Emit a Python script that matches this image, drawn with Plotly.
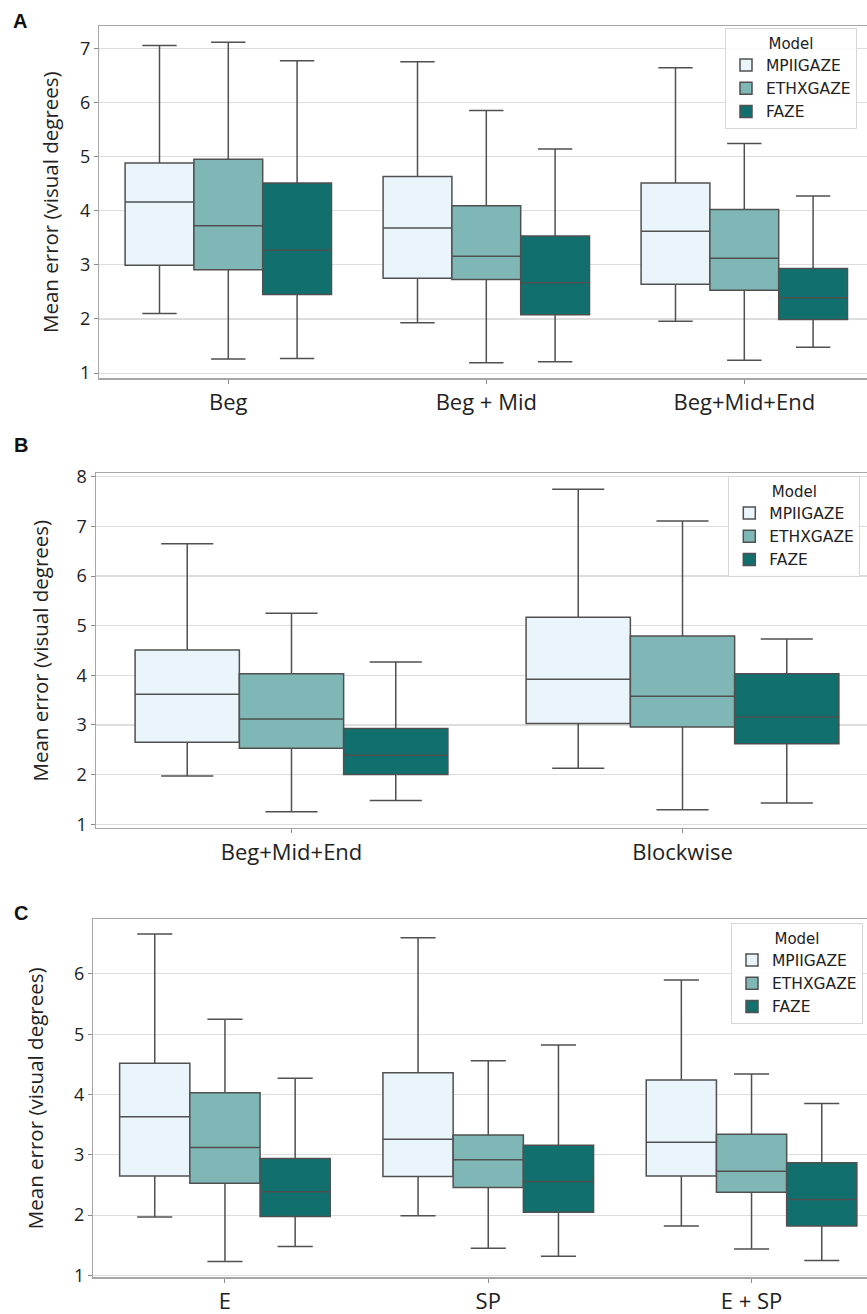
import plotly.graph_objects as go

MODELS = ["MPIIGAZE", "ETHXGAZE", "FAZE"]
FILLS = {"MPIIGAZE": "#eaf5fb", "ETHXGAZE": "#7fb7b6", "FAZE": "#11706d"}

# ---- Panel A ----
A_categories = ["Beg", "Beg + Mid", "Beg+Mid+End"]
A_MPIIGAZE = dict(lowerfence=[2.10, 1.93, 1.96], q1=[2.99, 2.75, 2.64], median=[4.16, 3.68, 3.62],
                  q3=[4.88, 4.63, 4.51], upperfence=[7.05, 6.75, 6.64])
A_ETHXGAZE = dict(lowerfence=[1.26, 1.19, 1.24], q1=[2.91, 2.73, 2.53], median=[3.72, 3.16, 3.12],
                  q3=[4.95, 4.09, 4.02], upperfence=[7.11, 5.85, 5.24])
A_FAZE = dict(lowerfence=[1.27, 1.21, 1.48], q1=[2.45, 2.08, 1.99], median=[3.27, 2.67, 2.39],
              q3=[4.51, 3.53, 2.93], upperfence=[6.77, 5.14, 4.27])

# ---- Panel B ----
B_categories = ["Beg+Mid+End", "Blockwise"]
B_MPIIGAZE = dict(lowerfence=[1.97, 2.13], q1=[2.65, 3.03], median=[3.62, 3.92],
                  q3=[4.51, 5.17], upperfence=[6.65, 7.75])
B_ETHXGAZE = dict(lowerfence=[1.25, 1.29], q1=[2.53, 2.96], median=[3.12, 3.58],
                  q3=[4.03, 4.79], upperfence=[5.25, 7.11])
B_FAZE = dict(lowerfence=[1.48, 1.43], q1=[2.00, 2.62], median=[2.39, 3.16],
              q3=[2.93, 4.03], upperfence=[4.27, 4.73])

# ---- Panel C ----
C_categories = ["E", "SP", "E + SP"]
C_MPIIGAZE = dict(lowerfence=[1.97, 1.99, 1.82], q1=[2.65, 2.64, 2.65], median=[3.63, 3.26, 3.21],
                  q3=[4.52, 4.36, 4.24], upperfence=[6.66, 6.60, 5.90])
C_ETHXGAZE = dict(lowerfence=[1.23, 1.45, 1.44], q1=[2.53, 2.46, 2.38], median=[3.12, 2.92, 2.73],
                  q3=[4.03, 3.33, 3.34], upperfence=[5.25, 4.56, 4.34])
C_FAZE = dict(lowerfence=[1.48, 1.32, 1.25], q1=[1.98, 2.05, 1.82], median=[2.39, 2.56, 2.26],
              q3=[2.94, 3.16, 2.87], upperfence=[4.27, 4.82, 3.85])

panels = [
    ("x", "y", "legend", A_categories, {"MPIIGAZE": A_MPIIGAZE, "ETHXGAZE": A_ETHXGAZE, "FAZE": A_FAZE}),
    ("x2", "y2", "legend2", B_categories, {"MPIIGAZE": B_MPIIGAZE, "ETHXGAZE": B_ETHXGAZE, "FAZE": B_FAZE}),
    ("x3", "y3", "legend3", C_categories, {"MPIIGAZE": C_MPIIGAZE, "ETHXGAZE": C_ETHXGAZE, "FAZE": C_FAZE}),
]

W, H = 867, 1314
LINE = "#505050"
FONT = "Open Sans"

fig = go.Figure()
for xa, ya, lg, cats, data in panels:
    for m in MODELS:
        d = data[m]
        fig.add_trace(go.Box(
            x=cats, q1=d["q1"], median=d["median"], q3=d["q3"],
            lowerfence=d["lowerfence"], upperfence=d["upperfence"],
            name=m, fillcolor=FILLS[m], line=dict(color=LINE, width=1.5),
            whiskerwidth=0.5, boxpoints=False, xaxis=xa, yaxis=ya,
            legend=lg, showlegend=True, offsetgroup=m, hoverinfo="skip",
        ))


def px_x(v):
    return v / W


def px_y(v):
    return 1 - v / H


axis_common = dict(
    showline=True, linecolor="#a6a6a6", linewidth=1.5,
    ticks="outside", ticklen=4, tickcolor="#8a8a8a", tickwidth=1,
    automargin=False,
)

# pixel geometry per panel: left, full right edge (beyond the cut), top, bottom, yrange, ncat
geo = [
    (99.3, 873.3, 26, 378, [0.91, 7.41], 3),
    (96.0, 878.0, 473.3, 827.7, [0.93, 8.07], 2),
    (93.3, 883.2, 919, 1277.3, [0.97, 6.91], 3),
]

layout = dict(
    width=W, height=H, margin=dict(l=0, r=0, t=0, b=0),
    paper_bgcolor="white", plot_bgcolor="white",
    boxmode="group", boxgap=0.2, boxgroupgap=0,
    font=dict(family=FONT, color="#222222"),
)

for i, (left, right, top, bottom, yr, n) in enumerate(geo):
    s = "" if i == 0 else str(i + 1)
    # the figure is cut at the page edge: visible part of the category range
    x_end = -0.5 + n * (W - left) / (right - left)
    layout["xaxis" + s] = dict(
        domain=[px_x(left), 1.0], anchor="y" + s, range=[-0.5, x_end], type="category",
        mirror=True, showgrid=False,
        tickfont=dict(family=FONT, size=22, color="#222222"),
        **axis_common,
    )
    layout["yaxis" + s] = dict(
        domain=[px_y(bottom), px_y(top)], anchor="x" + s, range=yr,
        tick0=0, dtick=1, showgrid=True, gridcolor="#dddddd", gridwidth=1.2,
        zeroline=False, mirror=False,
        tickfont=dict(family=FONT, size=18, color="#222222"),
        **axis_common,
    )

legend_pos = [(725, 28), (728.3, 476), (731, 923)]
for i, (lx, ly) in enumerate(legend_pos):
    key = "legend" if i == 0 else "legend" + str(i + 1)
    layout[key] = dict(
        x=px_x(lx), xanchor="left", y=px_y(ly), yanchor="top",
        title=dict(text="Model", side="top center", font=dict(family="DejaVu Sans", size=15, color="#222")),
        font=dict(family="DejaVu Sans", size=15.5, color="#222"),
        bgcolor="rgba(255,255,255,0.85)", bordercolor="#d6d6d6", borderwidth=1,
        tracegroupgap=0, itemwidth=30,
    )

annotations = []
for lab, (x, y) in zip(["A", "B", "C"], [(11, 21), (12, 445), (12, 913)]):
    annotations.append(dict(
        text="<b>" + lab + "</b>", xref="paper", yref="paper", x=px_x(x), y=px_y(y),
        xanchor="left", yanchor="middle", showarrow=False,
        font=dict(family="Liberation Sans", size=20, color="#111"),
    ))
for (x, top, bottom) in [(50, 26, 378), (39, 473.3, 827.7), (35, 919, 1277.3)]:
    annotations.append(dict(
        text="Mean error (visual degrees)", xref="paper", yref="paper",
        x=px_x(x), y=px_y((top + bottom) / 2), xanchor="center", yanchor="middle",
        textangle=-90, showarrow=False, font=dict(family=FONT, size=20.5, color="#222"),
    ))
layout["annotations"] = annotations

fig.update_layout(**layout)
fig.write_html(
    "out.html",
    config={"displayModeBar": False, "staticPlot": True},
    post_script="document.body.style.margin='0px'; document.body.style.overflow='hidden';",
)
